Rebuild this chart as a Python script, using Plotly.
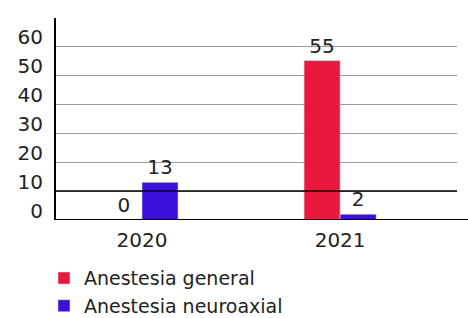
import plotly.graph_objects as go

years = ["2020", "2021"]
general = [0, 55]
neuroaxial = [13, 2]
series_names = ["Anestesia general", "Anestesia neuroaxial"]
y_ticks = [0, 10, 20, 30, 40, 50, 60]

RED = "#E8193C"
BLUE = "#3D0FDB"
FONT = "DejaVu Sans"
TXT = "#222222"
FS = 20

fig = go.Figure()
fig.add_trace(go.Bar(x=years, y=general, name=series_names[0], marker_color=RED,
                     text=general, textposition="outside", cliponaxis=False,
                     textfont=dict(family=FONT, size=FS, color=TXT)))
fig.add_trace(go.Bar(x=years, y=neuroaxial, name=series_names[1], marker_color=BLUE,
                     text=neuroaxial, textposition="outside", cliponaxis=False,
                     textfont=dict(family=FONT, size=FS, color=TXT)))

fig.update_layout(
    width=468, height=318,
    margin=dict(l=56, r=11, t=18, b=98, autoexpand=False),
    paper_bgcolor="white", plot_bgcolor="white",
    barmode="group", bargap=0.636, bargroupgap=0,
    font=dict(family=FONT, size=FS, color=TXT),
    showlegend=True,
    legend=dict(xref="container", yref="container", x=0.094, xanchor="left",
                y=0.185, yanchor="top",
                font=dict(family=FONT, size=19, color=TXT),
                bgcolor="rgba(0,0,0,0)", tracegroupgap=0, itemwidth=30),
    xaxis=dict(type="category", range=[-0.434, 1.59], showgrid=False,
               showline=False, ticks="", tickfont=dict(size=FS, color=TXT),
               ticklabelstandoff=6, automargin=False),
    yaxis=dict(range=[0, 69.7], tickvals=y_ticks, showgrid=True,
               gridcolor="#9a9a9a", gridwidth=1, zeroline=False,
               showline=True, linecolor="black", linewidth=2,
               ticks="", ticklabelshift=-9, ticklabelstandoff=7,
               tickfont=dict(size=FS, color=TXT), automargin=False),
)

# black reference line at 10 and baseline
fig.add_shape(type="line", xref="paper", yref="y", x0=0, x1=1, y0=10, y1=10,
              line=dict(color="black", width=1.5))
fig.add_shape(type="line", xref="paper", yref="y", x0=0, x1=1.03, y0=0, y1=0,
              line=dict(color="black", width=2))

fig.write_html("out.html", config={"displayModeBar": False},
               post_script="document.body.style.margin='0';")
